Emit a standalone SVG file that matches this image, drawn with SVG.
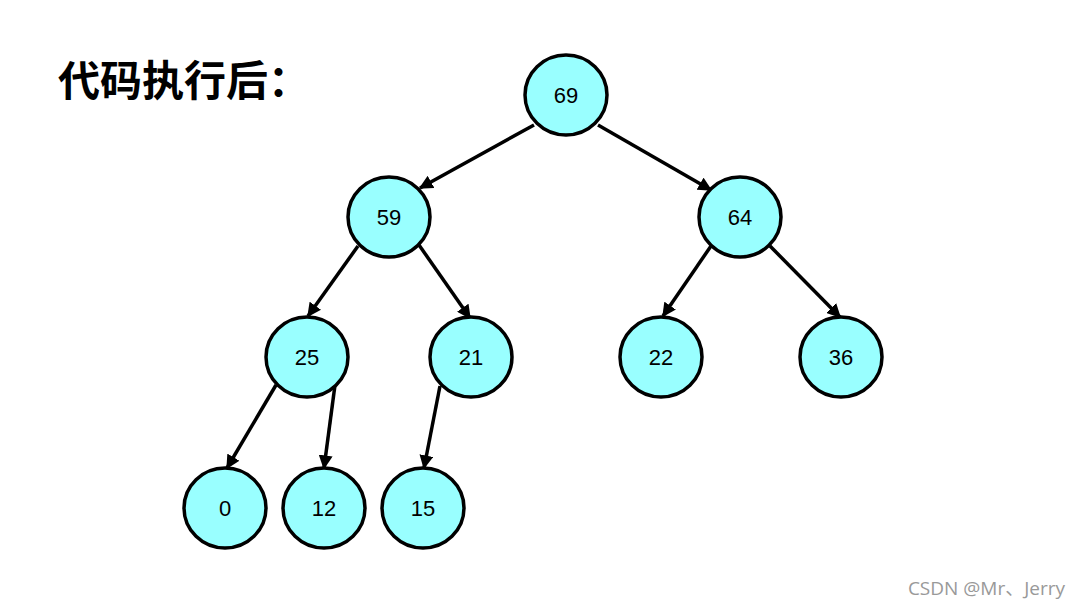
<svg xmlns="http://www.w3.org/2000/svg" width="1081" height="609" viewBox="0 0 1081 609">
<style>
.n ellipse{fill:#99FFFF;stroke:#000;stroke-width:3.5}
.n text{font-family:"Liberation Sans",Arial,sans-serif;font-size:22px;text-anchor:middle;fill:#000}
.e line{stroke:#000;stroke-width:3.5;marker-end:url(#ah)}
</style>
<defs>
<marker id="ah" viewBox="0 0 10 10" refX="9" refY="5" markerWidth="4" markerHeight="4" markerUnits="strokeWidth" orient="auto">
<path d="M0,0 L10,5 L0,10 Z" fill="#000"/>
</marker>
</defs>
<rect width="1081" height="609" fill="#fff"/>
<text x="58" y="96" font-family="'Noto Sans CJK SC',sans-serif" font-weight="bold" font-size="42" fill="#000">代码执行后：</text>
<g class="e" id="connectors">
<line x1="534" y1="125" x2="420" y2="188"/>
<line x1="598" y1="125" x2="711" y2="190"/>
<line x1="358" y1="246" x2="308" y2="316"/>
<line x1="419" y1="245" x2="470" y2="318"/>
<line x1="711" y1="246" x2="663" y2="316"/>
<line x1="770" y1="246" x2="840" y2="317"/>
<line x1="276" y1="385" x2="227" y2="468"/>
<line x1="335" y1="385" x2="324" y2="468"/>
<line x1="440" y1="386" x2="424" y2="468"/>
</g>
<g class="n" id="n69"><ellipse cx="566" cy="95" rx="41" ry="40"/><text x="566" y="103">69</text></g>
<g class="n" id="n59"><ellipse cx="389" cy="217" rx="41" ry="40"/><text x="389" y="225">59</text></g>
<g class="n" id="n64"><ellipse cx="740" cy="217" rx="41" ry="40"/><text x="740" y="225">64</text></g>
<g class="n" id="n25"><ellipse cx="307" cy="357" rx="41" ry="40"/><text x="307" y="365">25</text></g>
<g class="n" id="n21"><ellipse cx="471" cy="357" rx="41" ry="40"/><text x="471" y="365">21</text></g>
<g class="n" id="n22"><ellipse cx="661" cy="357" rx="41" ry="40"/><text x="661" y="365">22</text></g>
<g class="n" id="n36"><ellipse cx="841" cy="357" rx="41" ry="40"/><text x="841" y="365">36</text></g>
<g class="n" id="n0"><ellipse cx="225" cy="508" rx="41" ry="40"/><text x="225" y="516">0</text></g>
<g class="n" id="n12"><ellipse cx="324" cy="508" rx="41" ry="40"/><text x="324" y="516">12</text></g>
<g class="n" id="n15"><ellipse cx="423" cy="508" rx="41" ry="40"/><text x="423" y="516">15</text></g>
<text x="1065" y="595" text-anchor="end" font-family="'Open Sans','Noto Sans CJK SC',sans-serif" font-size="19" fill="#999">CSDN @Mr、Jerry</text>
</svg>
